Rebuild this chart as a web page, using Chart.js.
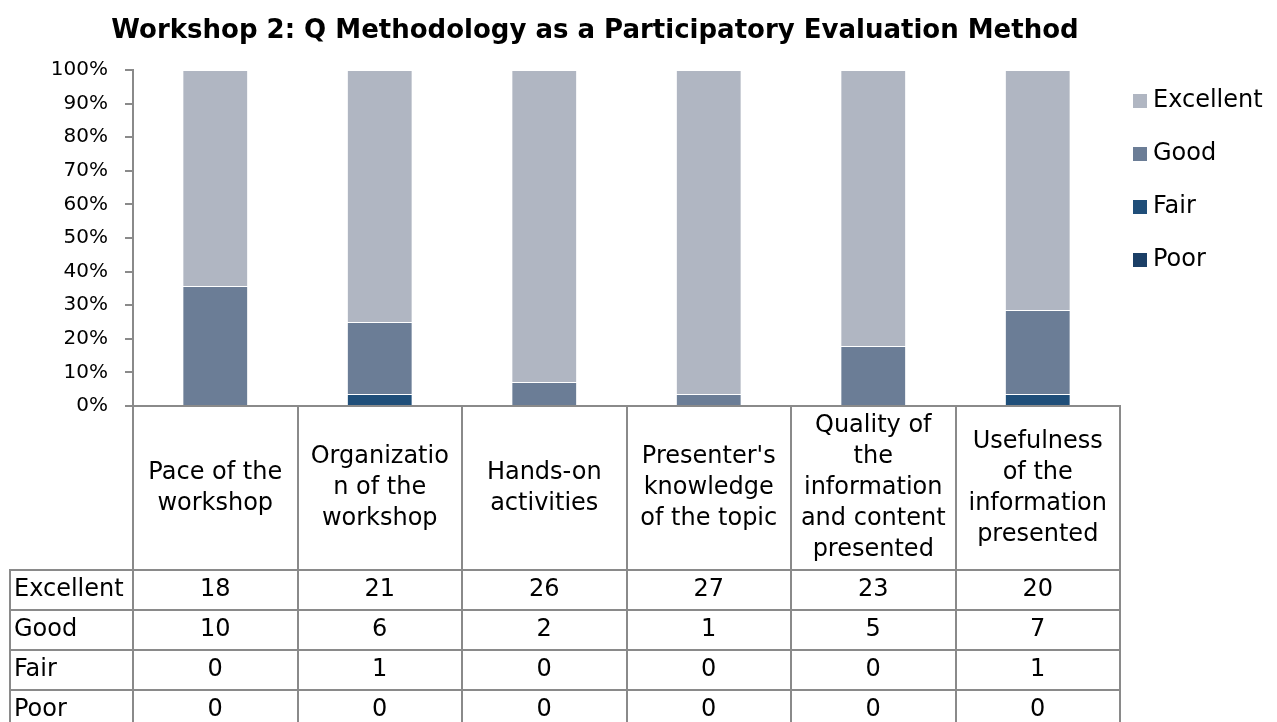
<!DOCTYPE html>
<html>
<head>
<meta charset="utf-8">
<script src="https://cdn.jsdelivr.net/npm/chart.js@4/dist/chart.umd.min.js"></script>
<style>
  body { margin: 0; background: #fff; }
  #wrap { width: 1277px; height: 722px; position: relative; }
</style>
</head>
<body>
<div id="wrap"><canvas id="chart"></canvas></div>
<script>
// --- data ---
const title = 'Workshop 2: Q Methodology as a Participatory Evaluation Method';
const categories = [
  ['Pace of the', 'workshop'],
  ['Organizatio', 'n of the', 'workshop'],
  ['Hands-on', 'activities'],
  ["Presenter's", 'knowledge', 'of the topic'],
  ['Quality of', 'the', 'information', 'and content', 'presented'],
  ['Usefulness', 'of the', 'information', 'presented']
];
const excellent = [18, 21, 26, 27, 23, 20];
const good = [10, 6, 2, 1, 5, 7];
const fair = [0, 1, 0, 0, 0, 1];
const poor = [0, 0, 0, 0, 0, 0];
const yTicks = [0, 10, 20, 30, 40, 50, 60, 70, 80, 90, 100];

const seriesNames = ['Excellent', 'Good', 'Fair', 'Poor'];
const seriesValues = [excellent, good, fair, poor];
const seriesColors = ['#b0b6c2', '#6b7d96', '#1f4e79', '#1b3f66'];

const FONT = '"DejaVu Sans", sans-serif';
const LINE = '#8a8a8a';

// counts -> share of respondents per category
const totals = categories.map((c, i) => seriesValues.reduce((s, arr) => s + arr[i], 0));
const pct = arr => arr.map((v, i) => totals[i] ? v / totals[i] * 100 : 0);

// bottom of stack first
const datasets = [3, 2, 1, 0].map(k => ({
  label: seriesNames[k],
  data: pct(seriesValues[k]),
  backgroundColor: seriesColors[k],
  borderColor: 'rgba(255,255,255,0.45)',
  borderWidth: 1,
  categoryPercentage: 1,
  barPercentage: 0.4
}));

// title, legend and data table drawn under the plot
const tablePlugin = {
  id: 'dataTable',
  afterDraw(chart) {
    const ctx = chart.ctx;
    const ca = chart.chartArea;
    const xs = chart.scales.x;
    const slot = (ca.right - ca.left) / categories.length;
    const headTop = ca.bottom, headBottom = 570, rowH = 40, tableLeft = 10;
    ctx.save();

    // title
    ctx.fillStyle = '#000';
    ctx.font = 'bold 26px ' + FONT;
    ctx.textAlign = 'center';
    ctx.textBaseline = 'middle';
    ctx.fillText(title, 595, 31);

    // legend
    ctx.font = '24px ' + FONT;
    ctx.textAlign = 'left';
    seriesNames.forEach((name, i) => {
      const y = 101 + i * 53;
      ctx.fillStyle = seriesColors[i];
      ctx.fillRect(1133, y - 7, 14, 14);
      ctx.fillStyle = '#000';
      ctx.fillText(name, 1153, y);
    });

    // grid lines
    ctx.strokeStyle = LINE;
    ctx.lineWidth = 2;
    ctx.beginPath();
    for (let i = 0; i <= categories.length; i++) {
      const x = Math.round(i < categories.length ? xs.getPixelForValue(i) - slot / 2 : xs.getPixelForValue(i - 1) + slot / 2);
      ctx.moveTo(x, headTop);
      ctx.lineTo(x, chart.height);
    }
    ctx.moveTo(tableLeft, headBottom);
    ctx.lineTo(tableLeft, chart.height);
    for (let r = 0; r < seriesNames.length; r++) {
      const y = headBottom + r * rowH;
      ctx.moveTo(tableLeft - 1, y);
      ctx.lineTo(ca.right + 1, y);
    }
    ctx.stroke();

    // header labels
    ctx.fillStyle = '#000';
    ctx.textAlign = 'center';
    const lh = 31, midY = (headTop + headBottom) / 2;
    categories.forEach((lines, i) => {
      const x = xs.getPixelForValue(i);
      const y0 = midY - (lines.length - 1) * lh / 2;
      lines.forEach((t, j) => ctx.fillText(t, x, y0 + j * lh));
    });

    // rows
    seriesNames.forEach((name, r) => {
      const y = headBottom + r * rowH + rowH / 2;
      ctx.textAlign = 'left';
      ctx.fillText(name, tableLeft + 4, y);
      ctx.textAlign = 'center';
      seriesValues[r].forEach((v, i) => ctx.fillText(String(v), xs.getPixelForValue(i), y));
    });
    ctx.restore();
  }
};

new Chart(document.getElementById('chart'), {
  type: 'bar',
  data: { labels: categories, datasets },
  plugins: [tablePlugin],
  options: {
    responsive: true,
    maintainAspectRatio: false,
    animation: false,
    layout: { padding: { top: 70, bottom: 316, left: 0, right: 157 } },
    plugins: {
      legend: { display: false },
      title: { display: false },
      tooltip: { enabled: false }
    },
    scales: {
      x: {
        stacked: true,
        offset: true,
        ticks: { display: false },
        grid: { display: true, drawOnChartArea: false, drawTicks: false },
        border: { display: true, color: LINE, width: 2 },
        afterFit(scale) { scale.height = 0; }
      },
      y: {
        stacked: true,
        min: 0,
        max: 100,
        afterBuildTicks(scale) { scale.ticks = yTicks.map(v => ({ value: v })); },
        ticks: {
          callback: v => v + '%',
          color: '#000',
          font: { family: FONT, size: 20 },
          padding: 17
        },
        grid: { drawOnChartArea: false, drawTicks: true, tickLength: 8, color: LINE, lineWidth: 2 },
        border: { display: true, color: LINE, width: 2 },
        afterFit(scale) { scale.width = 133; }
      }
    }
  }
});
</script>
</body>
</html>
